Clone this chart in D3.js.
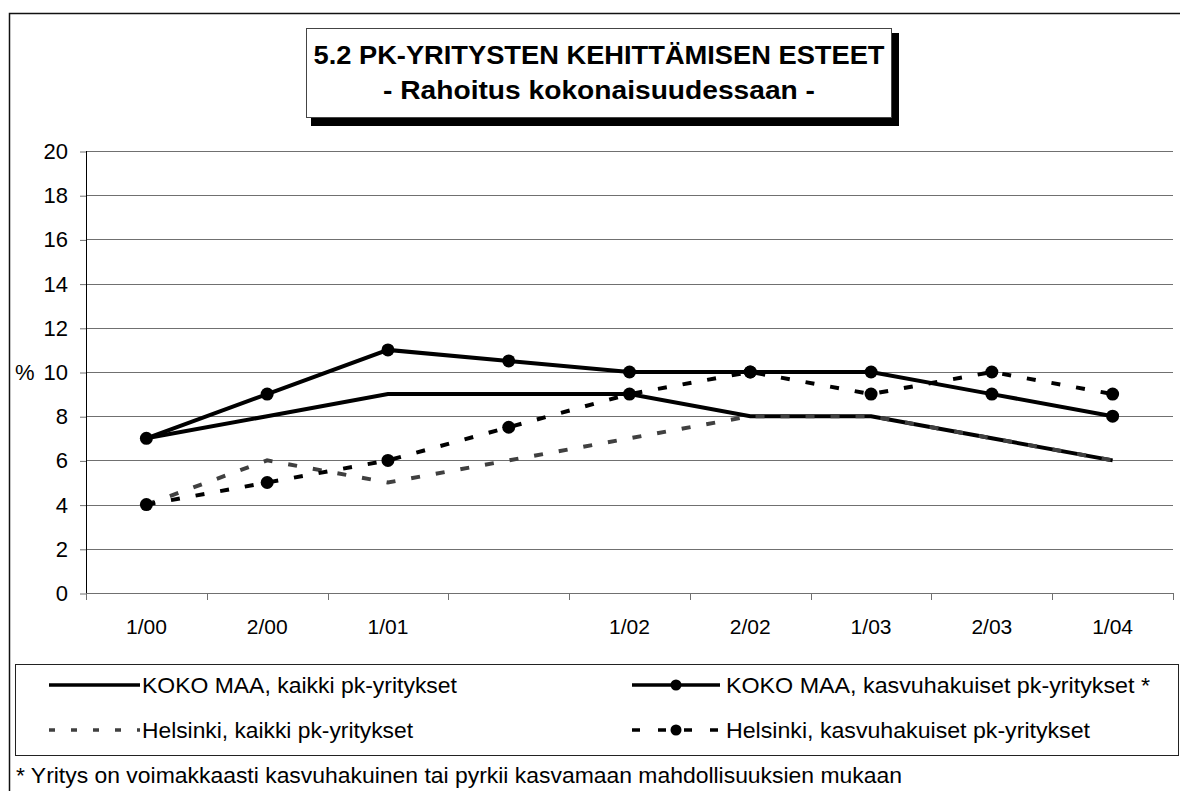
<!DOCTYPE html>
<html>
<head>
<meta charset="utf-8">
<script src="https://cdn.jsdelivr.net/npm/d3@7"></script>
<style>
  body { margin: 0; background: #fff; }
  text { font-family: "Liberation Sans", Arial, sans-serif; fill: #000; }
</style>
</head>
<body>
<div id="chart"></div>
<script>
// categories on the x axis (the 4th one has no label in the original)
var categories = ["1/00", "2/00", "1/01", "", "1/02", "2/02", "1/03", "2/03", "1/04"];

// series values (%)
var kokoKaikki = [7, 8, 9, 9, 9, 8, 8, 7, 6];
var kokoKasvu = [7, 9, 11, 10.5, 10, 10, 10, 9, 8];
var helKaikki = [4, 6, 5, 6, 7, 8, 8, 7, 6];
var helKasvu = [4, 5, 6, 7.5, 9, 10, 9, 10, 9];

var seriesNames = [
    "KOKO MAA, kaikki pk-yritykset",
    "KOKO MAA, kasvuhakuiset pk-yritykset *",
    "Helsinki, kaikki pk-yritykset",
    "Helsinki, kasvuhakuiset pk-yritykset"
];

var yTicks = [0, 2, 4, 6, 8, 10, 12, 14, 16, 18, 20];

var titleLines = ["5.2 PK-YRITYSTEN KEHITTÄMISEN ESTEET", "- Rahoitus kokonaisuudessaan -"];
var footnote = "* Yritys on voimakkaasti kasvuhakuinen tai pyrkii kasvamaan mahdollisuuksien mukaan";

// line styles per series (same order as seriesNames)
var styles = [
    { color: "#000", dash: null, marker: false },
    { color: "#000", dash: null, marker: true },
    { color: "#404040", dash: "9,16", marker: false },
    { color: "#000", dash: "9,16", marker: true }
];
var allSeries = [kokoKaikki, kokoKasvu, helKaikki, helKasvu];

var svgWidth = 1180;
var svgHeight = 791;

var svg = d3.select("#chart")
    .append("svg")
    .attr("width", svgWidth)
    .attr("height", svgHeight);

svg.append("rect")
    .attr("width", svgWidth)
    .attr("height", svgHeight)
    .attr("fill", "#fff");

// outer chart frame (runs off the right and bottom edge)
svg.append("rect")
    .attr("x", 9.5)
    .attr("y", 13.5)
    .attr("width", 1250)
    .attr("height", 850)
    .attr("fill", "none")
    .attr("stroke", "#111")
    .attr("stroke-width", 1.5);

// title box with shadow
svg.append("rect")
    .attr("x", 311).attr("y", 33)
    .attr("width", 588).attr("height", 93)
    .attr("fill", "#000");
svg.append("rect")
    .attr("x", 306.5).attr("y", 28.5)
    .attr("width", 585).attr("height", 89)
    .attr("fill", "#fff")
    .attr("stroke", "#444");

svg.append("text")
    .attr("x", 599).attr("y", 64)
    .attr("text-anchor", "middle")
    .attr("font-size", "26px")
    .attr("font-weight", "bold")
    .attr("textLength", 571)
    .attr("lengthAdjust", "spacingAndGlyphs")
    .text(titleLines[0]);
svg.append("text")
    .attr("x", 599).attr("y", 99)
    .attr("text-anchor", "middle")
    .attr("font-size", "26px")
    .attr("font-weight", "bold")
    .attr("textLength", 432)
    .attr("lengthAdjust", "spacingAndGlyphs")
    .text(titleLines[1]);

// plot area
var plotLeft = 86, plotRight = 1173, plotTop = 151, plotBottom = 593;

var xBand = d3.scaleBand()
    .domain(categories)
    .range([plotLeft, plotRight])
    .padding(0);

var yLinearScale = d3.scaleLinear()
    .domain([0, 20])
    .range([plotBottom, plotTop]);

var xMid = function(i) { return xBand(categories[i]) + xBand.bandwidth() / 2; };

// gridlines
svg.append("g")
    .selectAll("line")
    .data(yTicks.filter(function(t) { return t > 0; }))
    .enter()
    .append("line")
    .attr("x1", plotLeft)
    .attr("x2", plotRight)
    .attr("y1", function(d) { return Math.round(yLinearScale(d)) + 0.5; })
    .attr("y2", function(d) { return Math.round(yLinearScale(d)) + 0.5; })
    .attr("stroke", "#707070")
    .attr("stroke-width", 1);

// y axis
var leftAxis = d3.axisLeft(yLinearScale)
    .tickValues(yTicks)
    .tickSize(6)
    .tickPadding(12)
    .tickFormat(d3.format("d"));

var yAxisG = svg.append("g")
    .attr("transform", "translate(" + plotLeft + ",0.5)")
    .call(leftAxis);
yAxisG.select(".domain").remove();
yAxisG.selectAll(".tick line").attr("stroke", "#707070");
yAxisG.selectAll("text")
    .attr("font-size", "22px")
    .attr("font-family", "Liberation Sans, Arial, sans-serif")
    .attr("fill", "#000");

svg.append("line")
    .attr("x1", plotLeft + 0.5).attr("x2", plotLeft + 0.5)
    .attr("y1", plotTop).attr("y2", plotBottom + 7)
    .attr("stroke", "#000");

// x axis: labels centred on categories, ticks on category boundaries
var bottomAxis = d3.axisBottom(xBand)
    .tickSize(0)
    .tickPadding(26);

var xAxisG = svg.append("g")
    .attr("transform", "translate(0," + plotBottom + ")")
    .call(bottomAxis);
xAxisG.select(".domain").remove();
xAxisG.selectAll("text")
    .attr("font-size", "21px")
    .attr("font-family", "Liberation Sans, Arial, sans-serif")
    .attr("fill", "#000");

var boundaries = categories.map(function(c) { return xBand(c); }).concat([xBand.range()[1]]);

svg.append("line")
    .attr("x1", plotLeft).attr("x2", plotRight)
    .attr("y1", plotBottom + 0.5).attr("y2", plotBottom + 0.5)
    .attr("stroke", "#707070");

svg.append("g")
    .selectAll("line")
    .data(boundaries)
    .enter()
    .append("line")
    .attr("x1", function(d) { return Math.round(d) + 0.5; })
    .attr("x2", function(d) { return Math.round(d) + 0.5; })
    .attr("y1", plotBottom)
    .attr("y2", plotBottom + 7)
    .attr("stroke", "#707070");

// "%" label
svg.append("text")
    .attr("x", 15)
    .attr("y", yLinearScale(10) + 8)
    .attr("font-size", "22px")
    .text("%");

// lines
var line = d3.line()
    .x(function(d, i) { return xMid(i); })
    .y(function(d) { return yLinearScale(d); });

allSeries.forEach(function(values, s) {
    var st = styles[s];
    svg.append("path")
        .datum(values)
        .attr("d", line)
        .attr("fill", "none")
        .attr("stroke", st.color)
        .attr("stroke-width", 4)
        .attr("stroke-dasharray", st.dash)
        .attr("stroke-linejoin", "miter");

    if (st.marker) {
        svg.append("g")
            .selectAll("circle")
            .data(values)
            .enter()
            .append("circle")
            .attr("cx", function(d, i) { return xMid(i); })
            .attr("cy", function(d) { return yLinearScale(d); })
            .attr("r", 6.5)
            .attr("fill", st.color);
    }
});

// legend
svg.append("rect")
    .attr("x", 15.5).attr("y", 664.5)
    .attr("width", 1163).attr("height", 91)
    .attr("fill", "#fff")
    .attr("stroke", "#222");

var legendPos = [
    { x1: 49, x2: 140, tx: 142, y: 685, w: 315 },
    { x1: 632, x2: 720, tx: 726, y: 685, w: 424 },
    { x1: 49, x2: 140, tx: 142, y: 730, w: 271 },
    { x1: 632, x2: 720, tx: 726, y: 730, w: 364 }
];
var legendDash = [null, null, "6,16", "8,18"];

seriesNames.forEach(function(name, s) {
    var p = legendPos[s];
    var st = styles[s];
    svg.append("line")
        .attr("x1", p.x1).attr("x2", p.x2)
        .attr("y1", p.y).attr("y2", p.y)
        .attr("stroke", st.color)
        .attr("stroke-width", 3.5)
        .attr("stroke-dasharray", legendDash[s]);
    if (st.marker) {
        svg.append("circle")
            .attr("cx", (p.x1 + p.x2) / 2)
            .attr("cy", p.y)
            .attr("r", 5.5)
            .attr("fill", st.color);
    }
    svg.append("text")
        .attr("x", p.tx)
        .attr("y", p.y + 8)
        .attr("font-size", "22px")
        .attr("textLength", p.w)
        .attr("lengthAdjust", "spacingAndGlyphs")
        .text(name);
});

// footnote
svg.append("text")
    .attr("x", 16)
    .attr("y", 783)
    .attr("font-size", "22px")
    .attr("textLength", 886)
    .attr("lengthAdjust", "spacingAndGlyphs")
    .text(footnote);
</script>
</body>
</html>
